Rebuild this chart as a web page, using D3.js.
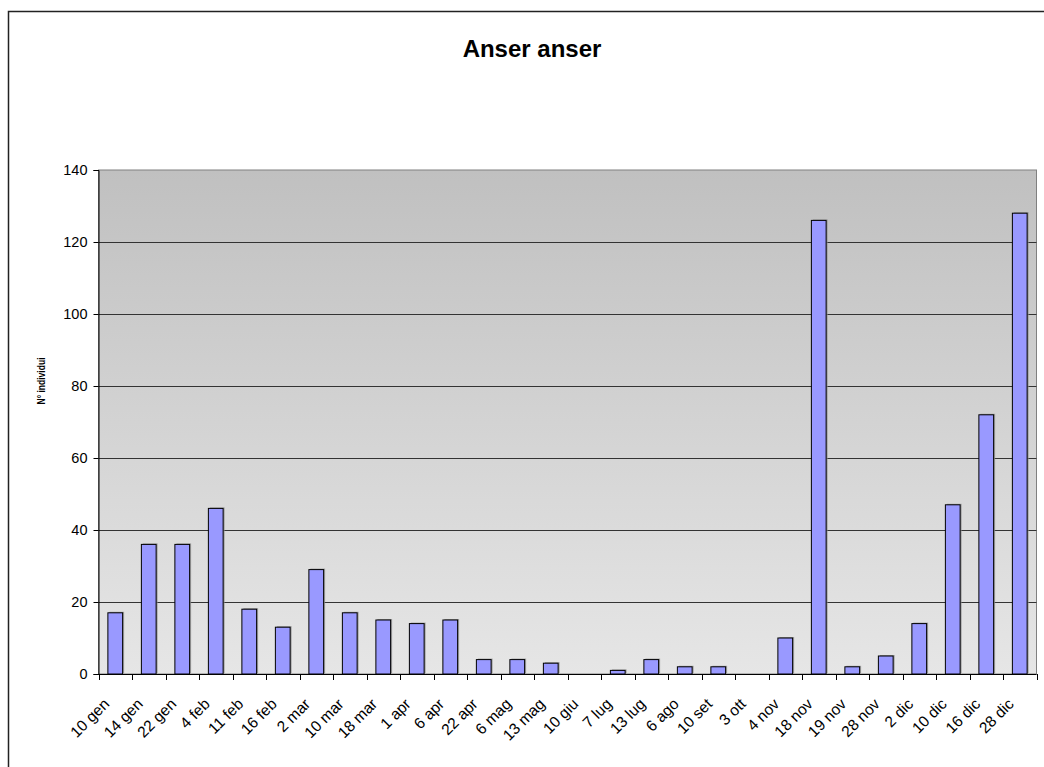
<!DOCTYPE html>
<html lang="it">
<head>
<meta charset="utf-8">
<title>Anser anser</title>
<script src="https://d3js.org/d3.v7.min.js"></script>
<style>
  body { margin: 0; background: #fff; }
  text { font-family: "Liberation Sans", Arial, sans-serif; }
</style>
</head>
<body>
<script>
// date dei rilevamenti
var dates = ["10 gen", "14 gen", "22 gen", "4 feb", "11 feb", "16 feb", "2 mar",
  "10 mar", "18 mar", "1 apr", "6 apr", "22 apr", "6 mag", "13 mag", "10 giu",
  "7 lug", "13 lug", "6 ago", "10 set", "3 ott", "4 nov", "18 nov", "19 nov",
  "28 nov", "2 dic", "10 dic", "16 dic", "28 dic"];
// numero di individui
var counts = [17, 36, 36, 46, 18, 13, 29, 17, 15, 14, 15, 4, 4, 3, 0,
  1, 4, 2, 2, 0, 10, 126, 2, 5, 14, 47, 72, 128];
var yTicks = [0, 20, 40, 60, 80, 100, 120, 140];

var W = 1044, H = 767;
var plot = { left: 98.5, top: 170, right: 1036.5, bottom: 674 };

var svg = d3.select("body").append("svg")
  .attr("width", W)
  .attr("height", H);

// cornice esterna
svg.append("rect")
  .attr("x", 8.5).attr("y", 11.5)
  .attr("width", W).attr("height", H)
  .attr("fill", "none")
  .attr("stroke", "#222")
  .attr("stroke-width", 1.5);

var grad = svg.append("defs").append("linearGradient")
  .attr("id", "bg")
  .attr("x1", 0).attr("y1", 0).attr("x2", 0).attr("y2", 1);
grad.append("stop").attr("offset", "0%").attr("stop-color", "#c0c0c0");
grad.append("stop").attr("offset", "100%").attr("stop-color", "#e6e6e6");

var x = d3.scaleBand()
  .domain(dates)
  .range([plot.left, plot.right])
  .paddingInner(0.56)
  .paddingOuter(0.28);

var y = d3.scaleLinear()
  .domain([0, 140])
  .range([plot.bottom, plot.top]);

svg.append("rect")
  .attr("x", plot.left).attr("y", plot.top)
  .attr("width", plot.right - plot.left)
  .attr("height", plot.bottom - plot.top)
  .attr("fill", "url(#bg)")
  .attr("stroke", "#808080");

// griglia
svg.append("g")
  .selectAll("line")
  .data(yTicks.filter(function (d) { return d > 0 && d < 140; }))
  .enter().append("line")
  .attr("x1", plot.left).attr("x2", plot.right)
  .attr("y1", function (d) { return Math.round(y(d)) + 0.5; })
  .attr("y2", function (d) { return Math.round(y(d)) + 0.5; })
  .attr("stroke", "#333");

// ombre e barre
var bars = svg.append("g");
bars.selectAll("rect.shadow")
  .data(counts)
  .enter().append("rect")
  .attr("class", "shadow")
  .attr("x", function (d, i) { return x(dates[i]) + 1.5; })
  .attr("y", function (d) { return y(d) - 1; })
  .attr("width", x.bandwidth())
  .attr("height", function (d) { return plot.bottom - y(d); })
  .attr("fill", "#8c8c8c")
  .attr("opacity", function (d) { return d > 0 ? 0.8 : 0; });

bars.selectAll("rect.data")
  .data(counts)
  .enter().append("rect")
  .attr("class", "data")
  .attr("x", function (d, i) { return x(dates[i]); })
  .attr("y", function (d) { return y(d); })
  .attr("width", x.bandwidth())
  .attr("height", function (d) { return plot.bottom - y(d); })
  .attr("fill", "#9999ff")
  .attr("stroke", "#000")
  .attr("stroke-width", 1)
  .attr("opacity", function (d) { return d > 0 ? 1 : 0; });

// asse y
var yAxis = svg.append("g")
  .attr("transform", "translate(" + plot.left + ",0)")
  .call(d3.axisLeft(y).tickValues(yTicks).tickSize(5).tickPadding(6));
yAxis.select(".domain").attr("stroke", "#000");
yAxis.selectAll("text")
  .attr("font-size", 14.5)
  .attr("font-family", "Liberation Sans, Arial, sans-serif")
  .attr("fill", "#000");

// asse x, tacche tra le categorie
var xAxis = svg.append("g")
  .attr("transform", "translate(0," + plot.bottom + ")");
xAxis.append("line")
  .attr("x1", plot.left).attr("x2", plot.right)
  .attr("y1", 0.5).attr("y2", 0.5)
  .attr("stroke", "#000");
var step = x.step();
xAxis.selectAll("line.tick")
  .data(d3.range(dates.length + 1))
  .enter().append("line")
  .attr("class", "tick")
  .attr("x1", function (i) { return Math.round(plot.left + i * step) + 0.5; })
  .attr("x2", function (i) { return Math.round(plot.left + i * step) + 0.5; })
  .attr("y1", 0).attr("y2", 6)
  .attr("stroke", "#000");
xAxis.selectAll("text")
  .data(dates)
  .enter().append("text")
  .attr("transform", function (d) {
    return "translate(" + (x(d) + x.bandwidth() / 2 - 5) + ",31) rotate(-45)";
  })
  .attr("text-anchor", "end")
  .attr("font-size", 15.5)
  .text(function (d) { return d; });

// titoli
svg.append("text")
  .attr("x", 532).attr("y", 57)
  .attr("text-anchor", "middle")
  .attr("font-size", 24)
  .attr("font-weight", "bold")
  .text("Anser anser");

svg.append("text")
  .attr("transform", "translate(45,381) rotate(-90)")
  .attr("text-anchor", "middle")
  .attr("font-size", 11.5)
  .attr("font-weight", "bold")
  .attr("textLength", 47)
  .attr("lengthAdjust", "spacingAndGlyphs")
  .text("N° individui");
</script>
</body>
</html>
